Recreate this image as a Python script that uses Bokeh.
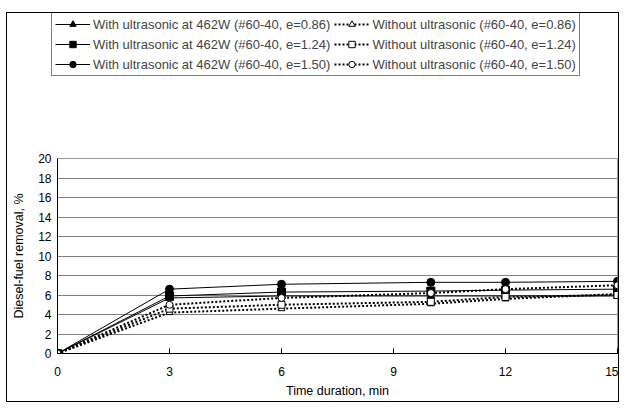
from bokeh.plotting import figure
from bokeh.layouts import column
from bokeh.models import Legend, LegendItem, FixedTicker, Range1d
from bokeh.embed import file_html
from bokeh.resources import INLINE

time_min = [0, 3, 6, 10, 12, 15]
with_086 = [0, 5.7, 5.9, 5.9, 5.9, 5.9]
with_124 = [0, 5.9, 6.3, 6.4, 6.5, 6.6]
with_150 = [0, 6.6, 7.1, 7.3, 7.3, 7.4]
without_086 = [0, 4.2, 4.6, 5.1, 5.6, 6.1]
without_124 = [0, 4.6, 5.0, 5.3, 5.8, 6.0]
without_150 = [0, 5.0, 5.7, 6.2, 6.6, 7.0]

labels = [
    "With ultrasonic at 462W (#60-40, e=0.86)",
    "With ultrasonic at 462W (#60-40, e=1.24)",
    "With ultrasonic at 462W (#60-40, e=1.50)",
    "Without ultrasonic (#60-40, e=0.86)",
    "Without ultrasonic (#60-40, e=1.24)",
    "Without ultrasonic (#60-40, e=1.50)",
]
x_ticks = [0, 3, 6, 9, 12, 15]
y_ticks = [0, 2, 4, 6, 8, 10, 12, 14, 16, 18, 20]

FONT = "Liberation Sans"

series = [
    (with_086, "triangle", "black", "solid", 1, 8),
    (with_124, "square", "black", "solid", 1, 8),
    (with_150, "circle", "black", "solid", 1, 8),
    (without_086, "triangle", "white", "2 2", 2, 7),
    (without_124, "square", "white", "2 2", 2, 7),
    (without_150, "circle", "white", "2 2", 2, 7),
]

# ---- main chart ----
p = figure(width=611, height=251, output_backend="svg", toolbar_location=None,
           x_range=Range1d(0, 15), y_range=Range1d(0, 20),
           min_border_left=50, min_border_right=1, min_border_top=8, min_border_bottom=48)
p.outline_line_color = "#999999"
p.background_fill_color = "white"
p.xgrid.grid_line_color = None
p.ygrid.grid_line_color = "#808080"
p.ygrid.grid_line_width = 1
p.xaxis.ticker = FixedTicker(ticks=x_ticks)
p.yaxis.ticker = FixedTicker(ticks=y_ticks)
for ax in (p.xaxis[0], p.yaxis[0]):
    ax.axis_line_color = "black"
    ax.major_tick_line_color = "black"
    ax.minor_tick_line_color = None
    ax.major_label_text_font = FONT
    ax.major_label_text_font_size = "12px"
    ax.major_label_text_color = "black"
    ax.axis_label_text_font = FONT
    ax.axis_label_text_font_size = "12.5px"
    ax.axis_label_text_font_style = "normal"
    ax.axis_label_text_color = "black"
p.xaxis.major_tick_in = 5
p.xaxis.major_tick_out = 0
p.yaxis.major_tick_in = 0
p.yaxis.major_tick_out = 0
p.xaxis.major_label_standoff = 13
p.yaxis.major_label_standoff = 6
p.xaxis.axis_label = "Time duration, min"
p.yaxis.axis_label = "Diesel-fuel removal, %"
p.xaxis.axis_label_standoff = 5
p.yaxis.axis_label_standoff = 9

for vals, marker, fill, dash, lw, ms in series:
    p.line(time_min, vals, line_color="black", line_width=lw, line_dash=dash)
    p.scatter(time_min, vals, marker=marker, size=ms, fill_color=fill,
              line_color="black", line_width=1)

# ---- legend strip (its own glyph renderers lie outside its view) ----
lg = figure(width=611, height=137, output_backend="svg", toolbar_location=None,
            x_range=Range1d(100, 101), y_range=Range1d(100, 101),
            x_axis_type=None, y_axis_type=None,
            min_border_left=0, min_border_right=0, min_border_top=0, min_border_bottom=0)
lg.grid.visible = False
lg.outline_line_color = None
items = []
for (vals, marker, fill, dash, lw, ms), lab in zip(series, labels):
    lr = lg.line(time_min, vals, line_color="black", line_width=lw, line_dash=dash)
    sr = lg.scatter(time_min, vals, marker=marker, size=ms, fill_color=fill,
                    line_color="black", line_width=1)
    items.append(LegendItem(label=lab, renderers=[lr, sr]))

legend = Legend(items=items, location=(44, 74), ncols=2,
                label_text_font=FONT, label_text_font_size="13px",
                glyph_width=35, glyph_height=16, label_height=16,
                label_standoff=3, spacing=4, padding=3, margin=0,
                border_line_color="black", border_line_width=1,
                background_fill_alpha=1)
lg.add_layout(legend, "center")

layout = column(column(lg), column(p), spacing=0)
layout.styles = {"border": "1px solid black", "position": "relative",
                 "left": "6px", "top": "12px"}

open("out.html", "w").write(file_html(layout, INLINE))
